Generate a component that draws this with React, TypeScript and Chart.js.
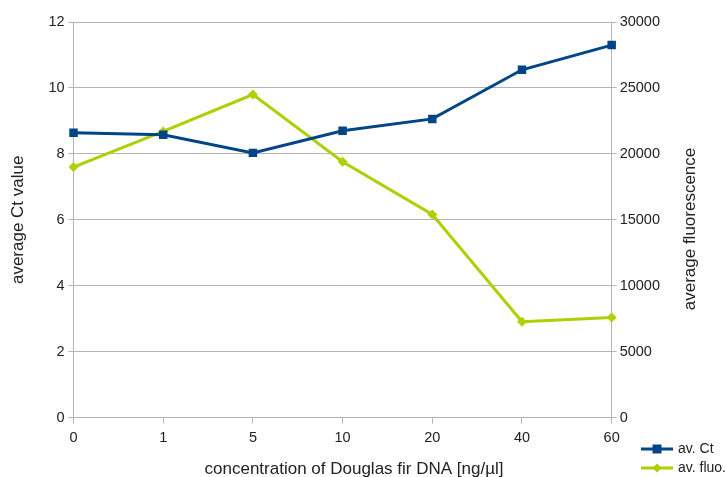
import React, { useEffect, useRef } from "react";
import { Chart, registerables } from "chart.js";

Chart.register(...registerables);

const categories = ["0", "1", "5", "10", "20", "40", "60"];
const ctValues = [8.64, 8.58, 8.03, 8.7, 9.06, 10.55, 11.3];
const fluoValues = [19000, 21700, 24500, 19400, 15400, 7270, 7600];
const seriesNames = ["av. Ct", "av. fluo."];
const xTitle = "concentration of Douglas fir DNA [ng/µl]";
const yLeftTitle = "average Ct value";
const yRightTitle = "average fluorescence";

const BLUE = "#004586";
const GREEN = "#aecf00";
const GRID = "#b3b3b3";
const FONT = "'Liberation Sans', Arial, sans-serif";
const TICK = 14.5;
const TITLE = 17;

const extrasPlugin = {
  id: "extras",
  afterDraw(chart: any) {
    const ctx = chart.ctx;
    ctx.save();
    ctx.fillStyle = "#222";
    ctx.font = `${TITLE}px ${FONT}`;
    ctx.textAlign = "center";
    ctx.textBaseline = "middle";
    ctx.fillText(xTitle, 354, 469);
    ctx.translate(690, 229);
    ctx.rotate(-Math.PI / 2);
    ctx.fillText(yRightTitle, 0, 0);
    ctx.restore();

    ctx.save();
    const rows = chart.data.datasets;
    rows.forEach((ds: any, i: number) => {
      const y = 449 + i * 19;
      const x0 = 641;
      const x1 = 673;
      ctx.strokeStyle = ds.borderColor;
      ctx.lineWidth = 3;
      ctx.beginPath();
      ctx.moveTo(x0, y);
      ctx.lineTo(x1, y);
      ctx.stroke();
      ctx.fillStyle = ds.borderColor;
      const cx = (x0 + x1) / 2;
      if (ds.pointStyle === "rect") {
        ctx.fillRect(cx - 4.5, y - 4.5, 9, 9);
      } else {
        ctx.beginPath();
        ctx.moveTo(cx, y - 4.5);
        ctx.lineTo(cx + 4.5, y);
        ctx.lineTo(cx, y + 4.5);
        ctx.lineTo(cx - 4.5, y);
        ctx.closePath();
        ctx.fill();
      }
      ctx.fillStyle = "#222";
      ctx.font = `14px ${FONT}`;
      ctx.textBaseline = "middle";
      ctx.textAlign = "left";
      ctx.fillText(ds.label, 678, y);
    });
    ctx.restore();
  },
};

export default function App() {
  const ref = useRef<HTMLCanvasElement>(null);
  useEffect(() => {
    if (!ref.current) return;
    const chart = new Chart(ref.current, {
      type: "line",
      data: {
        labels: categories,
        datasets: [
          {
            label: seriesNames[0],
            data: ctValues,
            yAxisID: "y",
            borderColor: BLUE,
            backgroundColor: BLUE,
            borderWidth: 3,
            pointStyle: "rect",
            pointRadius: 6,
            pointBorderWidth: 0,
            tension: 0,
          },
          {
            label: seriesNames[1],
            data: fluoValues,
            yAxisID: "y1",
            borderColor: GREEN,
            backgroundColor: GREEN,
            borderWidth: 3,
            pointStyle: "rectRot",
            pointRadius: 5,
            pointBorderWidth: 0,
            tension: 0,
          },
        ],
      },
      options: {
        animation: false,
        responsive: false,
        maintainAspectRatio: false,
        layout: { padding: { top: 22, left: 8, right: 62, bottom: 24 } },
        plugins: {
          legend: { display: false },
          tooltip: { enabled: false },
        },
        scales: {
          x: {
            offset: false,
            grid: {
              display: true,
              drawOnChartArea: false,
              drawTicks: true,
              tickLength: 6,
              color: GRID,
            },
            border: { color: GRID },
            ticks: { color: "#222", font: { family: FONT, size: TICK }, padding: 6, maxRotation: 0 },
            title: { display: false },
          },
          y: {
            position: "left",
            min: 0,
            max: 12,
            ticks: { stepSize: 2, color: "#222", font: { family: FONT, size: TICK }, padding: 4 },
            grid: { color: GRID, tickLength: 5 },
            border: { color: GRID },
            title: {
              display: true,
              text: yLeftTitle,
              color: "#222",
              font: { family: FONT, size: TITLE },
              padding: { top: 0, bottom: 16 },
            },
          },
          y1: {
            position: "right",
            min: 0,
            max: 30000,
            ticks: {
              stepSize: 5000,
              color: "#222",
              font: { family: FONT, size: TICK },
              padding: 3,
              callback: (v: any) => String(v),
            },
            grid: { drawOnChartArea: false, color: GRID, tickLength: 5 },
            border: { color: GRID },
            title: { display: false },
          },
        },
      },
      plugins: [extrasPlugin],
    });
    return () => chart.destroy();
  }, []);
  return (
    <div style={{ position: "fixed", left: 0, top: 0, width: 725, height: 477, background: "#fff" }}>
      <canvas ref={ref} width={725} height={477} style={{ width: 725, height: 477 }} />
    </div>
  );
}
